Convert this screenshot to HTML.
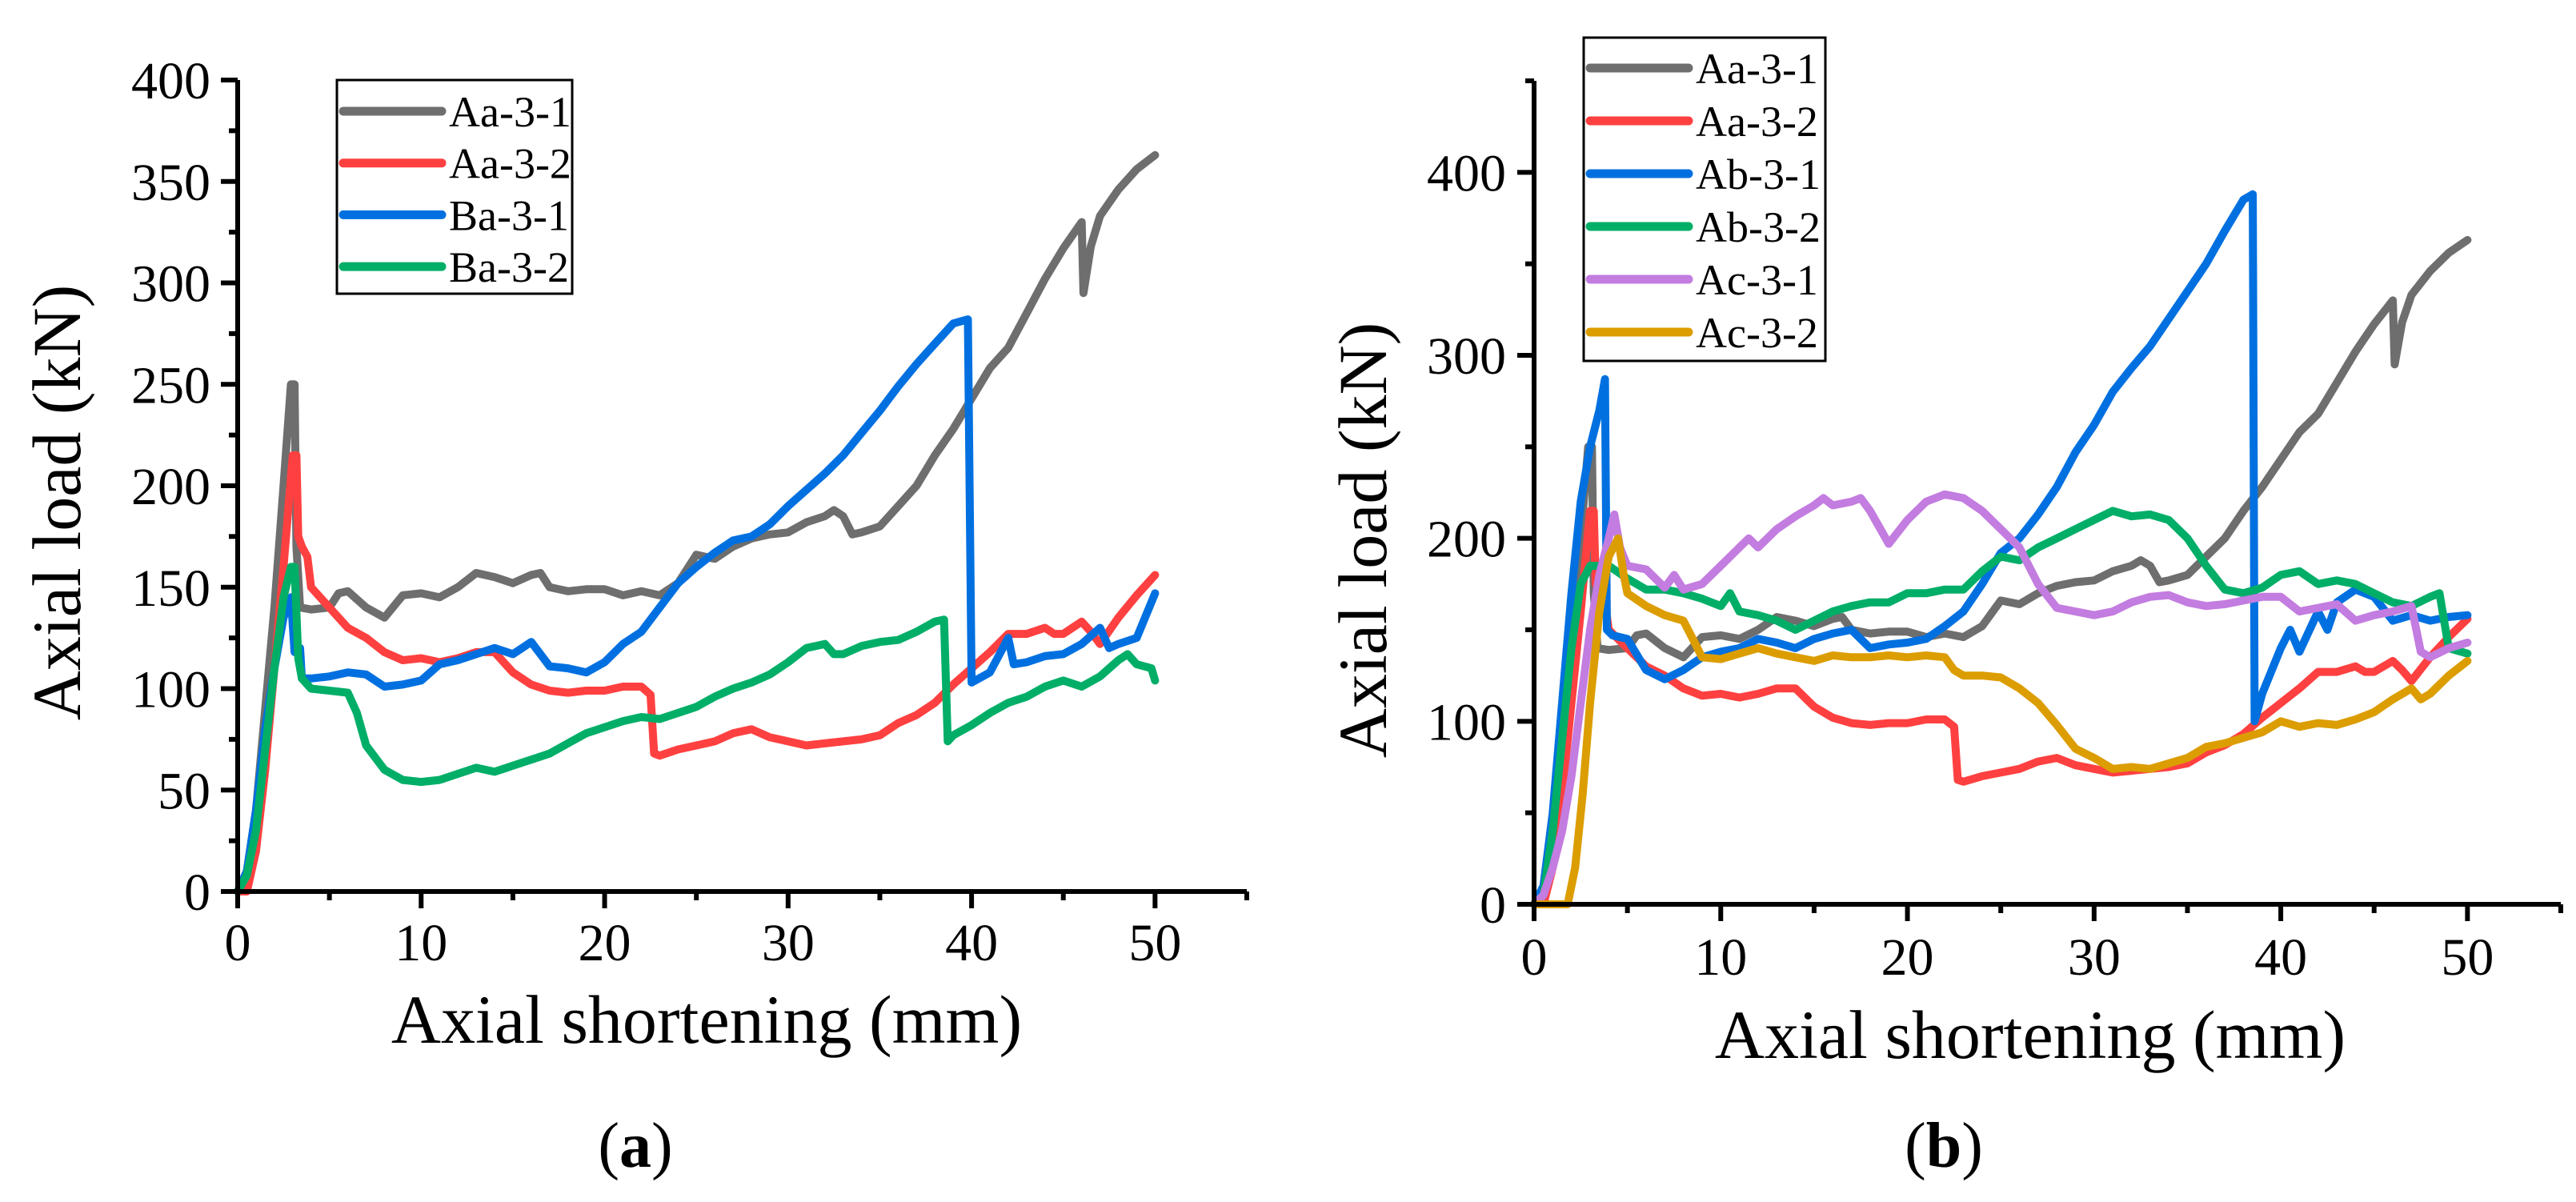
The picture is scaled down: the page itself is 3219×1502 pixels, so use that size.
<!DOCTYPE html>
<html><head><meta charset="utf-8">
<style>
html,body{margin:0;padding:0;background:#fff;}
svg{display:block;font-family:"Liberation Serif",serif;}
svg text{font-family:"Liberation Serif",serif;}
</style></head>
<body>
<svg id="fig" width="3219" height="1502" viewBox="0 0 3219 1502" xmlns="http://www.w3.org/2000/svg" font-family="Liberation Serif, serif">
<rect width="3219" height="1502" fill="#fff"/>
<g id="pa"></g>
<g id="pb"></g>
<text x="794" y="1458" font-size="80" font-family="Liberation Serif, serif" text-anchor="middle">(<tspan font-weight="bold">a</tspan>)</text>
<text x="2429" y="1458" font-size="80" font-family="Liberation Serif, serif" text-anchor="middle">(<tspan font-weight="bold">b</tspan>)</text>
</svg>
<script>
// ---- data (x: mm, y: kN) ----
const xTicks = [0,10,20,30,40,50];
const yTicksA = [0,50,100,150,200,250,300,350,400];
const yTicksB = [0,100,200,300,400];
const namesA = ["Aa-3-1","Aa-3-2","Ba-3-1","Ba-3-2"];
const namesB = ["Aa-3-1","Aa-3-2","Ab-3-1","Ab-3-2","Ac-3-1","Ac-3-2"];
const Aa31 = [[0,0],[0.5,10],[1,40],[1.5,90],[2,140],[2.5,200],[2.9,250],[3.1,250],[3.2,170],[3.4,140],[4,139],[5,140],[5.5,147],[6,148],[7,140],[8,135],[9,146],[10,147],[11,145],[12,150],[13,157],[14,155],[15,152],[16,156],[16.5,157],[17,150],[18,148],[19,149],[20,149],[21,146],[22,148],[23,146],[24,152],[25,166],[26,164],[27,170],[28,174],[29,176],[30,177],[31,182],[32,185],[32.5,188],[33,185],[33.5,176],[34,177],[35,180],[36,190],[37,200],[38,215],[39,228],[40,243],[41,258],[42,268],[43,285],[44,302],[45,317],[46,330],[46.1,295],[46.5,318],[47,333],[48,346],[49,356],[50,363]];
const Aa32 = [[0,0],[0.5,0],[1,20],[1.5,60],[2,110],[2.5,160],[3.0,215],[3.2,215],[3.3,175],[3.5,170],[3.8,165],[4,150],[5,140],[6,130],[7,125],[8,118],[9,114],[10,115],[11,113],[12,115],[13,118],[14,118],[15,108],[16,102],[17,99],[18,98],[19,99],[20,99],[21,101],[22,101],[22.5,97],[22.7,68],[23,67],[24,70],[25,72],[26,74],[27,78],[28,80],[29,76],[30,74],[31,72],[32,73],[33,74],[34,75],[35,77],[36,83],[37,87],[38,93],[39,102],[40,110],[41,118],[42,127],[43,127],[44,130],[44.5,127],[45,127],[46,133],[46.5,128],[47,122],[48,135],[49,146],[50,156]];
const Ba31 = [[0,0],[0.5,10],[1,40],[1.5,80],[2,110],[2.5,135],[2.9,145],[3.1,118],[3.4,120],[3.5,105],[4,105],[5,106],[6,108],[7,107],[8,101],[9,102],[10,104],[11,112],[12,114],[13,117],[14,120],[15,117],[16,123],[17,111],[18,110],[19,108],[20,113],[21,122],[22,128],[23,140],[24,152],[25,160],[26,167],[27,173],[28,175],[29,181],[30,190],[31,198],[32,206],[33,215],[34,226],[35,237],[36,249],[37,260],[38,270],[39,280],[39.8,282],[40,103],[41,108],[42,125],[42.3,112],[43,113],[44,116],[45,117],[46,122],[47,130],[47.5,120],[48,122],[49,125],[50,147]];
const Ba32 = [[0,0],[0.5,8],[1,30],[1.5,70],[2,110],[2.5,145],[2.9,160],[3.1,160],[3.3,115],[3.5,105],[4,100],[5,99],[6,98],[6.5,88],[7,72],[8,60],[9,55],[10,54],[11,55],[12,58],[13,61],[14,59],[15,62],[16,65],[17,68],[18,73],[19,78],[20,81],[21,84],[22,86],[23,85],[24,88],[25,91],[26,96],[27,100],[28,103],[29,107],[30,113],[31,120],[32,122],[32.5,117],[33,117],[34,121],[35,123],[36,124],[37,128],[38,133],[38.5,134],[38.7,74],[39,77],[40,82],[41,88],[42,93],[43,96],[44,101],[45,104],[46,101],[47,106],[48,114],[48.5,117],[49,112],[49.8,110],[50,104]];
const Ab31 = [[0,0],[0.5,10],[1,50],[1.5,110],[2,170],[2.5,220],[3,250],[3.5,270],[3.8,287],[3.9,150],[4.2,147],[5,145],[6,128],[7,123],[8,128],[9,135],[10,138],[11,140],[12,145],[13,143],[14,140],[15,145],[16,148],[17,150],[18,140],[19,142],[20,143],[21,145],[22,152],[23,160],[24,175],[25,192],[26,200],[27,213],[28,228],[29,247],[30,262],[31,280],[32,293],[33,305],[34,320],[35,335],[36,350],[37,368],[38,385],[38.5,388],[38.6,100],[39,115],[40,140],[40.5,150],[41,138],[42,160],[42.5,150],[43,165],[44,172],[45,168],[46,155],[47,158],[48,155],[49,157],[50,158]];
const Ab32 = [[0,0],[0.5,5],[1,40],[1.5,90],[2,140],[2.5,175],[3,185],[4,185],[5,178],[6,172],[7,172],[8,170],[9,167],[10,163],[10.5,170],[11,160],[12,158],[13,155],[14,150],[15,155],[16,160],[17,163],[18,165],[19,165],[20,170],[21,170],[22,172],[23,172],[24,182],[25,190],[26,188],[27,195],[28,200],[29,205],[30,210],[31,215],[32,212],[33,213],[34,210],[35,200],[36,185],[37,172],[38,170],[39,173],[40,180],[41,182],[42,175],[43,177],[44,175],[45,170],[46,165],[47,163],[48,168],[48.5,170],[49,140],[50,137]];
const Ac31 = [[0,0],[0.5,5],[1,20],[1.5,40],[2,70],[2.5,110],[3,150],[3.5,180],[4,200],[4.3,213],[4.6,195],[5,185],[6,183],[7,173],[7.5,180],[8,172],[9,175],[10,185],[11,195],[11.5,200],[12,195],[13,205],[14,212],[15,218],[15.5,222],[16,218],[17,220],[17.5,222],[18,215],[19,197],[20,210],[21,220],[22,224],[23,222],[24,215],[25,205],[26,195],[27,175],[28,162],[29,160],[30,158],[31,160],[32,165],[33,168],[34,169],[35,165],[36,163],[37,164],[38,166],[39,168],[40,168],[41,160],[42,162],[43,164],[44,155],[45,158],[46,160],[47,163],[47.5,138],[48,135],[49,140],[50,143]];
const Ac32 = [[0,0],[1,0],[1.8,0],[2.2,20],[2.6,60],[3,110],[3.5,160],[4,190],[4.5,200],[4.8,180],[5,170],[6,163],[7,158],[8,155],[8.5,145],[9,135],[10,134],[11,137],[12,140],[13,137],[14,135],[15,133],[16,136],[17,135],[18,135],[19,136],[20,135],[21,136],[22,135],[22.5,128],[23,125],[24,125],[25,124],[26,118],[27,110],[28,98],[29,85],[30,80],[31,74],[32,75],[33,74],[34,77],[35,80],[36,86],[37,88],[38,91],[39,94],[40,100],[41,97],[42,99],[43,98],[44,101],[45,105],[46,112],[47,118],[47.5,112],[48,115],[49,125],[50,133]];
const seriesA = [Aa31,Aa32,Ba31,Ba32];
const seriesB = [Aa31,Aa32,Ab31,Ab32,Ac31,Ac32];
const colorsA = ["#6e6e6e","#ff4040","#0070e0","#00ae68"];
const colorsB = ["#6e6e6e","#ff4040","#0070e0","#00ae68","#c37ce0","#dc9d00"];

const NS="http://www.w3.org/2000/svg";
const FF="Liberation Serif, serif";
function mk(tag,parent,attrs){const e=document.createElementNS(NS,tag);for(const k in attrs)e.setAttribute(k,attrs[k]);parent.appendChild(e);return e;}

function drawPanel(g,cfg){
  const X=v=>cfg.x0+(v/55)*(cfg.x55-cfg.x0);
  const Y=v=>cfg.y0-(v/cfg.ymax)*(cfg.y0-cfg.yTop);
  cfg.series.forEach((s,i)=>{
    const p=mk("polyline",g,{points:s.map(d=>X(d[0]).toFixed(1)+","+Y(d[1]).toFixed(1)).join(" "),fill:"none",stroke:cfg.colors[i],"stroke-width":10,"stroke-linejoin":"round","stroke-linecap":"round"});
    
    
  });
  const ax=mk("path",g,{d:`M${cfg.x0},${cfg.yTop} V${cfg.y0} H${cfg.x55}`,fill:"none",stroke:"#000","stroke-width":6});
  
  
  for(let v=0;v<=55;v+=5){
    const major=v%10===0;
    const t=mk("line",g,{x1:X(v),x2:X(v),y1:cfg.y0,y2:cfg.y0+(major?21:11),stroke:"#000","stroke-width":6});
    
    
  }
  xTicks.forEach(v=>{
    const t=mk("text",g,{x:X(v),y:cfg.xLabY,"font-size":66,"font-family":FF,"text-anchor":"middle"});
    t.textContent=v;
    
    
  });
  for(let v=0;v<=cfg.ymax;v+=cfg.minor){
    const major=cfg.yTicks.includes(v);
    const t=mk("line",g,{x1:cfg.x0-(major?21:11),x2:cfg.x0,y1:Y(v),y2:Y(v),stroke:"#000","stroke-width":6});
    
    
  }
  cfg.yTicks.forEach(v=>{
    const t=mk("text",g,{x:cfg.yLabX,y:Y(v)+23,"font-size":66,"font-family":FF,"text-anchor":"end"});
    t.textContent=v;
    
    
  });
  const xt=mk("text",g,{x:cfg.xtX,y:cfg.xtY,"font-size":86,"font-family":FF,"text-anchor":"middle"});
  xt.textContent="Axial shortening (mm)";
  
  
  const yt=mk("text",g,{x:0,y:0,"font-size":86,"font-family":FF,"text-anchor":"middle",transform:`translate(${cfg.ytX},${cfg.ytY}) rotate(-90)`});
  yt.textContent="Axial load (kN)";
  
  
  const L=cfg.leg;
  const lg=mk("g",g,{});
  
  
  mk("rect",lg,{x:L.x,y:L.y,width:L.w,height:L.h,fill:"#fff",stroke:"#000","stroke-width":3});
  cfg.names.forEach((n,i)=>{
    const cy=L.first+i*L.step;
    const e=mk("g",lg,{});
    
    
    mk("line",e,{x1:L.x+8,x2:L.x+131,y1:cy,y2:cy,stroke:cfg.colors[i],"stroke-width":11,"stroke-linecap":"round"});
    const t=mk("text",e,{x:L.x+140,y:cy+19,"font-size":54,"font-family":FF});
    t.textContent=n;
  });
}
drawPanel(document.getElementById("pa"),{x0:297,x55:1558,y0:1114,yTop:100,ymax:400,minor:25,yTicks:yTicksA,
  series:seriesA,colors:colorsA,names:namesA,xLabY:1200,yLabX:263,xtX:883,xtY:1303,ytX:100,ytY:628,
  leg:{x:421,y:100,w:294,h:267,first:139,step:64.7}});
drawPanel(document.getElementById("pb"),{x0:1917,x55:3200,y0:1130,yTop:101,ymax:450,minor:50,yTicks:yTicksB,
  series:seriesB,colors:colorsB,names:namesB,xLabY:1218,yLabX:1882,xtX:2537,xtY:1322,ytX:1732,ytY:675,
  leg:{x:1979,y:47,w:302,h:404,first:85,step:66}});
</script>
</body></html>
